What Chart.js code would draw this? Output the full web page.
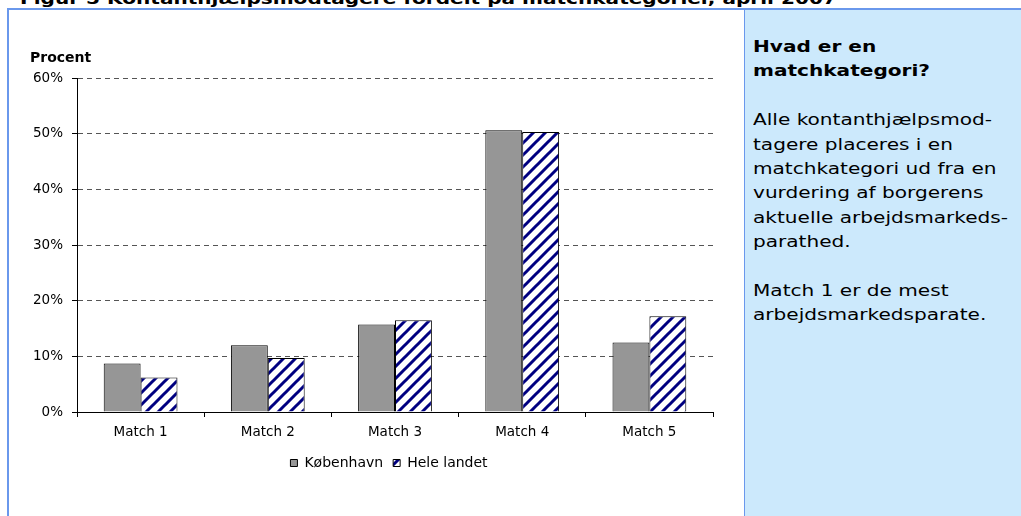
<!DOCTYPE html>
<html>
<head>
<meta charset="utf-8">
<script src="https://cdn.jsdelivr.net/npm/chart.js@4/dist/chart.umd.min.js"></script>
<style>
  html, body { margin:0; padding:0; background:#ffffff; width:1021px; height:516px; overflow:hidden; position:relative; }
  #title { position:absolute; left:20px; top:-11px; font-family:"DejaVu Sans", sans-serif; font-weight:bold; font-size:16px; line-height:normal; white-space:nowrap; color:#000; transform:scaleX(1.254); transform-origin:0 0; }
  #topline { position:absolute; left:7px; top:8px; width:1014px; height:1.5px; background:#6a98ec; }
  #leftline { position:absolute; left:7px; top:8px; width:1.5px; height:508px; background:#6a98ec; }
  #panel { position:absolute; left:744px; top:9px; width:277px; height:507px; background:#cce9fc; border-left:1.5px solid #6a98ec; }
  #paneltext { position:absolute; left:8px; top:26px; font-family:"DejaVu Sans", sans-serif; font-size:16px; line-height:24.4px; white-space:nowrap; color:#000; transform:scaleX(1.255); transform-origin:0 0; }
  #paneltext b { font-weight:bold; }
  #wrap { position:absolute; left:9px; top:9px; width:734px; height:507px; }
</style>
</head>
<body>
<div id="title">Figur 5 Kontanthjælpsmodtagere fordelt på matchkategorier, april 2007</div>
<div id="panel"><div id="paneltext"><b>Hvad er en<br>matchkategori?</b><br><br>Alle kontanthjælpsmod-<br>tagere placeres i en<br>matchkategori ud fra en<br>vurdering af borgerens<br>aktuelle arbejdsmarkeds-<br>parathed.<br><br>Match 1 er de mest<br>arbejdsmarkedsparate.</div></div>
<div id="topline"></div>
<div id="leftline"></div>
<div id="wrap"><canvas id="c" width="734" height="507"></canvas></div>
<script>
const categories = ['Match 1', 'Match 2', 'Match 3', 'Match 4', 'Match 5'];
const seriesNames = ['København', 'Hele landet'];
const kobenhavn = [8.7, 12.0, 15.7, 50.6, 12.5];
const heleLandet = [6.2, 9.7, 16.5, 50.3, 17.2];
const yTicks = [0, 10, 20, 30, 40, 50, 60];
const axisTitle = 'Procent';

const FONT = '"DejaVu Sans", "Liberation Sans", sans-serif';

function makeHatch() {
  const s = 12;
  const p = document.createElement('canvas');
  p.width = s; p.height = s;
  const g = p.getContext('2d');
  g.fillStyle = '#ffffff';
  g.fillRect(0, 0, s, s);
  g.strokeStyle = '#000080';
  g.lineWidth = 3;
  g.beginPath();
  g.moveTo(-s / 2, s / 2); g.lineTo(s / 2, -s / 2);
  g.moveTo(0, s); g.lineTo(s, 0);
  g.moveTo(s / 2, s * 1.5); g.lineTo(s * 1.5, s / 2);
  g.stroke();
  return document.getElementById('c').getContext('2d').createPattern(p, 'repeat');
}
const hatch = makeHatch();

const axisTitlePlugin = {
  id: 'axisTitle',
  afterLayout(chart) {
    if (chart.legend) { chart.legend.left -= 6; chart.legend.right -= 6; }
  },
  afterDraw(chart) {
    const ctx = chart.ctx;
    ctx.save();
    ctx.font = 'bold 14px ' + FONT;
    ctx.fillStyle = '#000';
    ctx.textBaseline = 'alphabetic';
    ctx.textAlign = 'left';
    ctx.fillText(axisTitle, 21, 53);
    ctx.restore();
  }
};

new Chart(document.getElementById('c'), {
  type: 'bar',
  data: {
    labels: categories,
    datasets: [
      { label: seriesNames[0], data: kobenhavn, backgroundColor: '#969696', borderColor: '#000', borderWidth: 1 },
      { label: seriesNames[1], data: heleLandet, backgroundColor: hatch, borderColor: '#000', borderWidth: 1 }
    ]
  },
  options: {
    responsive: false,
    animation: false,
    devicePixelRatio: 1,
    layout: { padding: { left: 8, right: 30, top: 69, bottom: 36 } },
    datasets: { bar: { categoryPercentage: 0.58, barPercentage: 1.0 } },
    plugins: {
      tooltip: { enabled: false },
      legend: {
        position: 'bottom',
        fullSize: false,
        labels: {
          font: { family: FONT, size: 14 },
          color: '#000',
          boxWidth: 7, boxHeight: 7, padding: 10,
          useBorderRadius: false
        }
      }
    },
    scales: {
      x: {
        grid: { drawOnChartArea: false, drawTicks: true, tickLength: 5, color: '#000', offset: true },
        border: { display: true, color: '#000', width: 1 },
        ticks: { color: '#000', padding: 7, font: { family: FONT, size: 13.5 } },
        afterFit(scale) { scale.height = 34; }
      },
      y: {
        min: 0, max: 60,
        afterBuildTicks(scale) { scale.ticks = yTicks.map(v => ({ value: v })); },
        grid: { drawOnChartArea: true, drawTicks: true, tickLength: 5, color: '#555555', tickColor: '#000', tickBorderDash: [], lineWidth: 1 },
        border: { display: true, color: '#000', width: 1, dash: [5, 4] },
        ticks: { color: '#000', padding: 9, font: { family: FONT, size: 13.5 }, callback: v => v + '%' },
        afterFit(scale) { scale.width = 60; }
      }
    }
  },
  plugins: [axisTitlePlugin]
});
</script>
</body>
</html>
